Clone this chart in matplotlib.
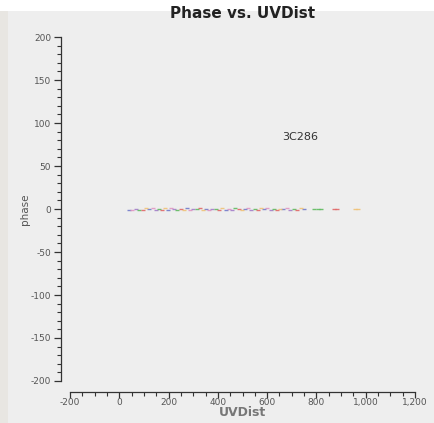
import matplotlib.pyplot as plt
from matplotlib.ticker import MultipleLocator, FuncFormatter

plt.rcParams["axes.unicode_minus"] = False

# baseline lengths (UVDist) and phases for 3C286, coloured by spectral window
uvdist = [38, 52, 66, 80, 95, 108, 121, 135, 148, 160, 172, 185, 197, 210,
          224, 236, 249, 262, 275, 288, 301, 314, 327, 340, 352, 365, 378,
          392, 405, 418, 431, 444, 457, 470, 484, 497, 510, 523, 536, 549,
          562, 575, 588, 601, 614, 627, 640, 653, 666, 680, 694, 708, 722,
          736, 750, 790, 805, 820, 870, 885, 955, 970]
phase = [-1.5, -1.0, 0.5, -0.8, -1.2, 0.6, -0.4, 1.0, -0.9, 0.3, -1.1, 0.8,
         -0.6, 1.6, -0.3, -1.0, 0.4, -0.7, 0.9, -1.3, 0.2, -0.5, 0.7, -1.2,
         0.1, -0.9, 0.5, -0.2, -1.4, 0.6, -0.7, 0.3, -1.0, 0.8, -0.4, -1.1,
         0.2, 1.2, -0.6, 0.4, -0.9, 0.7, -0.3, 1.1, -0.8, 0.5, -1.2, 0.3,
         -0.5, 0.9, -0.7, 0.2, -1.0, 0.6, -0.4, 0.3, 0.5, 0.2, 0.4, -0.3,
         0.1, -0.2]
spw = [0, 1, 2, 3, 4, 5, 0, 1, 2, 3, 4, 5, 0, 1, 2, 3, 4, 5, 0, 1, 2, 3, 4,
       5, 0, 1, 2, 3, 4, 5, 0, 1, 2, 3, 4, 5, 0, 1, 2, 3, 4, 5, 0, 1, 2, 3,
       4, 5, 0, 1, 2, 3, 4, 5, 0, 3, 3, 3, 4, 4, 5, 5]
spw_colors = ["#6a74c8", "#e090c0", "#a078c8", "#58b858", "#e06060", "#f0c070"]

source = "3C286"

fig = plt.figure(figsize=(4.34, 4.23), dpi=100, facecolor="#eeeeee")
# thin strips at the edges of the screenshot
fig.patches.append(plt.Rectangle((0, 0.975), 1, 0.025, transform=fig.transFigure,
                                 facecolor="white", edgecolor="none", zorder=-1))
fig.patches.append(plt.Rectangle((0, 0), 0.018, 0.975, transform=fig.transFigure,
                                 facecolor="#e8e6e2", edgecolor="none", zorder=-1))

ax = fig.add_axes([0.1613, 0.0993, 0.795, 0.8132])
ax.set_facecolor("#eeeeee")

for s, color in enumerate(spw_colors):
    xs = [u for u, k in zip(uvdist, spw) if k == s]
    ys = [p for p, k in zip(phase, spw) if k == s]
    ax.plot(xs, ys, linestyle="none", marker="_", markersize=3,
            markeredgewidth=1.0, color=color, alpha=0.85)

ax.set_xlim(-200, 1200)
ax.set_ylim(-200, 200)
ax.xaxis.set_major_locator(MultipleLocator(200))
ax.xaxis.set_minor_locator(MultipleLocator(50))
ax.yaxis.set_major_locator(MultipleLocator(50))
ax.yaxis.set_minor_locator(MultipleLocator(10))
ax.xaxis.set_major_formatter(FuncFormatter(lambda v, _: f"{int(v):,}"))

for side in ("top", "right"):
    ax.spines[side].set_visible(False)
ax.spines["left"].set_position(("outward", 6.5))
ax.spines["bottom"].set_position(("outward", 8))
for side in ("left", "bottom"):
    ax.spines[side].set_color("#333333")
    ax.spines[side].set_linewidth(0.9)

ax.tick_params(which="major", length=5, width=0.9, color="#333333",
               labelsize=6.5, labelcolor="#555555", pad=2)
ax.tick_params(which="minor", length=3, width=0.8, color="#333333")
ax.tick_params(axis="x", which="major", length=4, pad=0.5)

ax.text(735, 84, source, fontsize=8, color="#333333", ha="center", va="center")

ax.set_title("Phase vs. UVDist", fontsize=11, fontweight="bold",
             color="#222222", pad=14)
ax.set_xlabel("UVDist", fontsize=9, fontweight="bold", color="#777777",
              labelpad=-1)
ax.set_ylabel("phase", fontsize=7.5, color="#555555")
ax.yaxis.set_label_coords(-0.116, 0.5)

fig.savefig("out.png", dpi=100, facecolor=fig.get_facecolor())
